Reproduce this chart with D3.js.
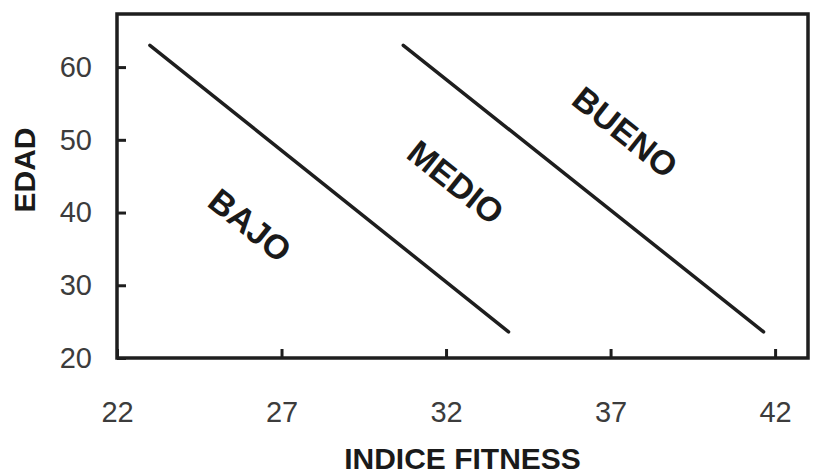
<!DOCTYPE html>
<html>
<head>
<meta charset="utf-8">
<script src="https://cdn.jsdelivr.net/npm/d3@7"></script>
<style>
  html, body { margin: 0; padding: 0; background: #fff; }
  svg { display: block; font-family: "Liberation Sans", Arial, sans-serif; }
</style>
</head>
<body>
<svg id="chart"></svg>
<script>
// datos
const xTicks = [22, 27, 32, 37, 42];
const yTicks = [20, 30, 40, 50, 60];
const zoneNames = ["BAJO", "MEDIO", "BUENO"];
const zoneX = [26.05, 32.3, 37.45];
const zoneY = [38.3, 44.2, 51.1];
const lineBajoMedio = [[23.0, 63.0], [33.9, 23.6]];
const lineMedioBueno = [[30.7, 63.0], [41.65, 23.6]];

const W = 814, H = 476;
const margin = { top: 14, right: 6, bottom: 118, left: 117 };
const width = W - margin.left - margin.right;
const height = H - margin.top - margin.bottom;

const svg = d3.select("#chart").attr("width", W).attr("height", H);
const g = svg.append("g").attr("transform", `translate(${margin.left},${margin.top})`);

const x = d3.scaleLinear().domain([22, 43]).range([0, width]);
const y = d3.scaleLinear().domain([20, 67.3]).range([height, 0]);

// ejes (marcas hacia dentro)
const xAxis = g.append("g")
  .attr("transform", `translate(0,${height})`)
  .call(d3.axisBottom(x).tickValues(xTicks).tickFormat(d3.format("d"))
    .tickSize(-9).tickPadding(43));
const yAxis = g.append("g")
  .call(d3.axisLeft(y).tickValues(yTicks).tickFormat(d3.format("d"))
    .tickSize(-9).tickPadding(25));

[xAxis, yAxis].forEach((a) => {
  a.select(".domain").remove();
  a.selectAll(".tick line").attr("stroke", "#1e1e1e").attr("stroke-width", 3);
  a.selectAll(".tick text")
    .attr("fill", "#3c3c3c")
    .style("font-size", "29px");
});

// marco
g.append("rect")
  .attr("x", 0).attr("y", 0)
  .attr("width", width).attr("height", height)
  .attr("fill", "none")
  .attr("stroke", "#1e1e1e")
  .attr("stroke-width", 3.5);

// lineas de zona
const line = d3.line().x((d) => x(d[0])).y((d) => y(d[1]));
g.selectAll("path.zone")
  .data([lineBajoMedio, lineMedioBueno])
  .enter().append("path")
  .attr("class", "zone")
  .attr("d", line)
  .attr("fill", "none")
  .attr("stroke", "#1e1e1e")
  .attr("stroke-width", 3.5)
  .attr("stroke-linecap", "round");

// angulo de las lineas en pixeles
const p0 = lineBajoMedio[0], p1 = lineBajoMedio[1];
const ang = Math.atan2(y(p1[1]) - y(p0[1]), x(p1[0]) - x(p0[0])) * 180 / Math.PI;

g.selectAll("text.zone")
  .data(zoneNames)
  .enter().append("text")
  .attr("class", "zone")
  .attr("transform", (d, i) => `translate(${x(zoneX[i])},${y(zoneY[i])}) rotate(${ang})`)
  .attr("text-anchor", "middle")
  .attr("dy", "0.36em")
  .attr("fill", "#1a1a1a")
  .style("font-size", "34px")
  .style("font-weight", "bold")
  .text((d) => d);

// titulos
svg.append("text")
  .attr("x", margin.left + width / 2)
  .attr("y", 469)
  .attr("text-anchor", "middle")
  .attr("fill", "#1a1a1a")
  .style("font-size", "30px")
  .style("font-weight", "bold")
  .text("INDICE FITNESS");

svg.append("text")
  .attr("transform", "translate(35,170) rotate(-90)")
  .attr("text-anchor", "middle")
  .attr("fill", "#1a1a1a")
  .style("font-size", "30px")
  .style("font-weight", "bold")
  .text("EDAD");
</script>
</body>
</html>
